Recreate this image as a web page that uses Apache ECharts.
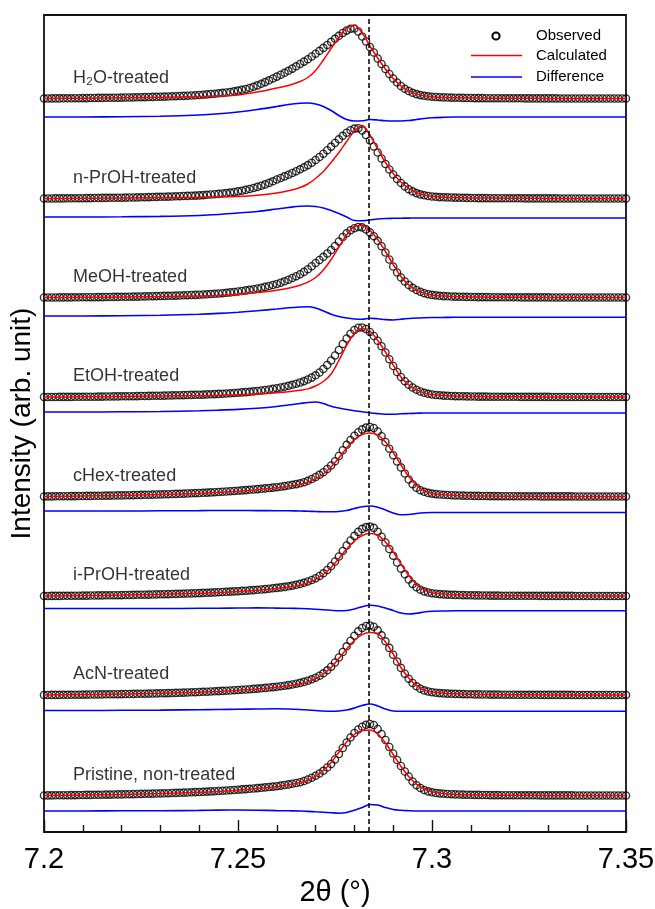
<!DOCTYPE html>
<html>
<head>
<meta charset="utf-8">
<script src="https://cdn.jsdelivr.net/npm/echarts@6/dist/echarts.min.js"></script>
<style>html,body{margin:0;padding:0;background:#fff}#c{width:655px;height:909px}</style>
</head>
<body>
<div id="c"></div>
<script>
// 2theta scan grid (deg) for observed points
const twoTheta = [
7.200,7.201,7.202,7.203,7.204,7.205,7.206,7.207,7.208,7.209,
7.210,7.211,7.212,7.213,7.214,7.215,7.216,7.217,7.218,7.219,
7.220,7.221,7.222,7.223,7.224,7.225,7.226,7.227,7.228,7.229,
7.230,7.231,7.232,7.233,7.234,7.235,7.236,7.237,7.238,7.239,
7.240,7.241,7.242,7.243,7.244,7.245,7.246,7.247,7.248,7.249,
7.250,7.251,7.252,7.253,7.254,7.255,7.256,7.257,7.258,7.259,
7.260,7.261,7.262,7.263,7.264,7.265,7.266,7.267,7.268,7.269,
7.270,7.271,7.272,7.273,7.274,7.275,7.276,7.277,7.278,7.279,
7.280,7.281,7.282,7.283,7.284,7.285,7.286,7.287,7.288,7.289,
7.290,7.291,7.292,7.293,7.294,7.295,7.296,7.297,7.298,7.299,
7.300,7.301,7.302,7.303,7.304,7.305,7.306,7.307,7.308,7.309,
7.310,7.311,7.312,7.313,7.314,7.315,7.316,7.317,7.318,7.319,
7.320,7.321,7.322,7.323,7.324,7.325,7.326,7.327,7.328,7.329,
7.330,7.331,7.332,7.333,7.334,7.335,7.336,7.337,7.338,7.339,
7.340,7.341,7.342,7.343,7.344,7.345,7.346,7.347,7.348,7.349,
7.350];

// 2theta grid for calculated and difference curves
const fitTheta = [7.200,7.210,7.220,7.230,7.240,7.245,7.250,7.255,7.260,7.263,7.266,7.268,7.270,7.272,7.274,7.276,7.278,7.280,7.282,7.284,7.286,7.288,7.290,7.292,7.294,7.296,7.298,7.300,7.303,7.306,7.310,7.315,7.320,7.330,7.340,7.350];

const sampleNames = ['H\u2082O-treated','n-PrOH-treated','MeOH-treated','EtOH-treated','cHex-treated','i-PrOH-treated','AcN-treated','Pristine, non-treated'];

// vertical offsets of each pattern (arb. unit)
const obsOffset  = [733, 633, 534, 434.5, 335, 235.5, 136.5, 36];
const diffOffset = [715, 615, 516, 420, 321, 223.5, 121.5, 21];

const dashedPeak = 7.2838;
const xTicks = [7.2, 7.25, 7.3, 7.35];

// Observed intensities
const obsH2O = [
0.5,0.5,0.6,0.6,0.6,0.7,0.7,0.7,0.8,0.8,
0.9,0.9,1.0,1.0,1.1,1.1,1.2,1.2,1.3,1.3,
1.4,1.5,1.5,1.6,1.7,1.8,1.9,2.0,2.1,2.2,
2.3,2.4,2.5,2.7,2.8,3.0,3.1,3.3,3.5,3.7,
4.0,4.3,4.6,5.0,5.3,5.7,6.1,6.5,7.0,7.7,
8.4,9.2,10.0,11.0,12.2,13.6,15.2,16.9,18.7,20.5,
22.4,24.3,26.2,28.2,30.4,32.7,35.0,37.4,39.8,42.5,
45.3,48.2,51.1,54.0,57.1,60.2,63.2,66.0,68.4,70.2,
70.5,67.5,62.5,57.5,52.0,46.5,40.5,35.0,30.0,25.0,
20.5,16.5,13.0,10.2,8.0,6.2,4.9,3.9,3.2,2.7,
2.3,2.0,1.8,1.6,1.5,1.4,1.3,1.2,1.1,1.0,
1.0,0.9,0.9,0.9,0.8,0.8,0.8,0.8,0.7,0.7,
0.7,0.7,0.7,0.7,0.6,0.6,0.6,0.6,0.6,0.6,
0.6,0.6,0.6,0.5,0.5,0.5,0.5,0.5,0.5,0.5,
0.5,0.5,0.5,0.5,0.5,0.5,0.5,0.5,0.5,0.5,
0.5];
const obsNPrOH = [
0.5,0.5,0.5,0.6,0.6,0.6,0.7,0.7,0.7,0.8,
0.8,0.9,0.9,1.0,1.0,1.1,1.1,1.2,1.2,1.3,
1.3,1.4,1.5,1.5,1.6,1.7,1.8,1.9,2.0,2.1,
2.2,2.3,2.4,2.5,2.7,2.8,3.0,3.1,3.3,3.4,
3.6,3.9,4.2,4.5,4.8,5.1,5.5,5.9,6.4,7.0,
7.6,8.3,9.1,10.0,11.0,12.1,13.3,14.6,16.1,17.7,
19.5,21.0,22.6,24.3,26.0,27.8,29.7,31.7,33.9,36.3,
39.0,42.0,45.3,48.8,52.4,56.0,59.7,63.2,66.3,68.8,
70.4,70.8,68.5,64.0,58.5,52.5,46.5,40.5,35.0,29.5,
24.5,20.0,16.0,12.6,9.8,7.6,5.9,4.6,3.7,3.0,
2.5,2.2,1.9,1.7,1.6,1.5,1.4,1.3,1.2,1.1,
1.0,1.0,0.9,0.9,0.9,0.8,0.8,0.8,0.8,0.7,
0.7,0.7,0.7,0.7,0.6,0.6,0.6,0.6,0.6,0.6,
0.6,0.6,0.6,0.5,0.5,0.5,0.5,0.5,0.5,0.5,
0.5,0.5,0.5,0.5,0.5,0.5,0.5,0.5,0.5,0.5,
0.5];
const obsMeOH = [
0.5,0.5,0.5,0.5,0.6,0.6,0.6,0.6,0.7,0.7,
0.7,0.8,0.8,0.8,0.9,0.9,1.0,1.0,1.1,1.1,
1.2,1.2,1.3,1.4,1.4,1.5,1.6,1.7,1.8,1.9,
2.0,2.1,2.2,2.3,2.4,2.5,2.7,2.8,3.0,3.1,
3.3,3.5,3.7,4.0,4.2,4.5,4.8,5.2,5.6,6.0,
6.5,7.0,7.6,8.2,8.8,9.5,10.3,11.1,12.0,13.0,
14.0,15.3,16.7,18.3,20.0,21.8,23.8,26.1,28.8,31.8,
35.0,38.0,41.2,44.5,48.0,52.0,56.5,61.0,64.8,67.8,
69.8,71.0,70.6,68.6,65.6,61.8,57.2,51.8,45.5,38.5,
31.5,25.5,20.5,16.5,13.0,10.2,8.0,6.2,4.8,3.8,
3.1,2.6,2.2,1.9,1.7,1.5,1.4,1.3,1.2,1.1,
1.0,1.0,0.9,0.9,0.9,0.8,0.8,0.8,0.7,0.7,
0.7,0.7,0.7,0.6,0.6,0.6,0.6,0.6,0.6,0.6,
0.6,0.5,0.5,0.5,0.5,0.5,0.5,0.5,0.5,0.5,
0.5,0.5,0.5,0.5,0.5,0.5,0.5,0.5,0.5,0.5,
0.5];
const obsEtOH = [
0.5,0.5,0.5,0.5,0.6,0.6,0.6,0.6,0.7,0.7,
0.7,0.8,0.8,0.8,0.9,0.9,1.0,1.0,1.1,1.1,
1.2,1.2,1.3,1.3,1.4,1.5,1.5,1.6,1.7,1.8,
1.8,1.9,2.0,2.1,2.2,2.3,2.4,2.5,2.6,2.7,
2.8,2.9,3.1,3.2,3.4,3.6,3.8,4.0,4.2,4.5,
4.8,5.1,5.4,5.7,6.1,6.5,7.0,7.5,8.0,8.6,
9.3,10.0,10.8,11.7,12.7,13.8,15.0,16.4,18.0,19.9,
22.2,25.0,28.5,32.5,37.0,42.0,47.5,53.5,59.0,63.8,
67.5,69.8,70.0,68.5,65.5,61.5,56.8,51.3,45.0,38.3,
31.5,25.5,20.5,16.3,12.8,10.0,7.8,6.0,4.7,3.7,
3.0,2.5,2.2,1.9,1.7,1.5,1.4,1.3,1.2,1.1,
1.0,1.0,0.9,0.9,0.9,0.8,0.8,0.8,0.7,0.7,
0.7,0.7,0.7,0.6,0.6,0.6,0.6,0.6,0.6,0.6,
0.6,0.5,0.5,0.5,0.5,0.5,0.5,0.5,0.5,0.5,
0.5,0.5,0.5,0.5,0.5,0.5,0.5,0.5,0.5,0.5,
0.5];
const obsCHex = [
0.5,0.6,0.6,0.7,0.7,0.8,0.8,0.9,0.9,1.0,
1.0,1.1,1.1,1.2,1.2,1.3,1.4,1.4,1.5,1.6,
1.6,1.7,1.8,1.9,2.0,2.1,2.2,2.3,2.4,2.5,
2.6,2.7,2.8,3.0,3.1,3.2,3.4,3.5,3.7,3.9,
4.0,4.2,4.4,4.6,4.8,5.0,5.3,5.5,5.8,6.0,
6.3,6.6,6.9,7.2,7.5,7.9,8.2,8.6,9.0,9.4,
9.8,10.3,10.9,11.5,12.2,12.9,13.7,14.8,16.2,18.0,
20.0,22.2,24.8,28.0,31.5,35.8,41.0,46.8,52.2,57.0,
61.3,64.8,67.6,69.4,70.0,69.0,65.5,60.8,55.0,48.3,
41.8,35.5,29.6,23.5,17.5,12.8,9.2,6.8,5.2,4.1,
3.4,2.9,2.5,2.2,2.0,1.8,1.6,1.5,1.4,1.3,
1.2,1.1,1.1,1.0,1.0,0.9,0.9,0.9,0.8,0.8,
0.8,0.8,0.7,0.7,0.7,0.7,0.7,0.7,0.6,0.6,
0.6,0.6,0.6,0.6,0.6,0.6,0.6,0.5,0.5,0.5,
0.5,0.5,0.5,0.5,0.5,0.5,0.5,0.5,0.5,0.5,
0.5];
const obsIPrOH = [
0.5,0.5,0.6,0.6,0.6,0.7,0.7,0.7,0.8,0.8,
0.9,0.9,1.0,1.0,1.1,1.1,1.2,1.2,1.3,1.3,
1.4,1.5,1.5,1.6,1.7,1.8,1.8,1.9,2.0,2.1,
2.2,2.3,2.4,2.5,2.6,2.7,2.9,3.0,3.1,3.3,
3.4,3.6,3.7,3.9,4.1,4.3,4.5,4.7,4.9,5.1,
5.3,5.6,5.8,6.1,6.4,6.7,7.0,7.4,7.8,8.2,
8.6,9.1,9.6,10.2,10.9,11.7,12.6,13.7,15.0,16.5,
18.3,20.5,23.2,26.5,30.5,35.0,40.0,45.5,51.0,56.0,
60.6,64.6,67.6,69.4,70.0,68.6,64.8,59.8,54.0,47.5,
40.8,34.0,27.8,22.2,17.0,12.6,9.2,6.8,5.1,4.0,
3.3,2.8,2.4,2.1,1.9,1.7,1.6,1.5,1.4,1.3,
1.2,1.1,1.1,1.0,1.0,0.9,0.9,0.9,0.8,0.8,
0.8,0.8,0.7,0.7,0.7,0.7,0.7,0.7,0.6,0.6,
0.6,0.6,0.6,0.6,0.6,0.6,0.6,0.5,0.5,0.5,
0.5,0.5,0.5,0.5,0.5,0.5,0.5,0.5,0.5,0.5,
0.5];
const obsAcN = [
0.5,0.5,0.6,0.6,0.6,0.7,0.7,0.7,0.8,0.8,
0.9,0.9,1.0,1.0,1.1,1.1,1.2,1.2,1.3,1.3,
1.4,1.5,1.5,1.6,1.7,1.8,1.8,1.9,2.0,2.1,
2.2,2.3,2.4,2.5,2.6,2.8,2.9,3.0,3.2,3.3,
3.5,3.7,3.8,4.0,4.2,4.4,4.6,4.8,5.0,5.3,
5.5,5.8,6.0,6.3,6.6,6.9,7.2,7.6,8.0,8.4,
8.8,9.3,9.8,10.4,11.0,11.8,12.6,13.6,14.8,16.2,
17.8,19.8,22.2,25.2,28.8,33.0,38.0,43.5,49.2,54.8,
59.8,64.2,67.5,69.5,70.0,68.8,65.2,60.2,54.2,47.6,
40.8,34.0,27.6,21.8,16.8,12.5,9.2,6.8,5.1,4.0,
3.3,2.8,2.4,2.1,1.9,1.7,1.6,1.5,1.4,1.3,
1.2,1.1,1.1,1.0,1.0,0.9,0.9,0.9,0.8,0.8,
0.8,0.8,0.7,0.7,0.7,0.7,0.7,0.7,0.6,0.6,
0.6,0.6,0.6,0.6,0.6,0.6,0.6,0.5,0.5,0.5,
0.5,0.5,0.5,0.5,0.5,0.5,0.5,0.5,0.5,0.5,
0.5];
const obsPristine = [
0.5,0.6,0.6,0.7,0.7,0.8,0.8,0.9,0.9,1.0,
1.0,1.1,1.1,1.2,1.2,1.3,1.4,1.4,1.5,1.6,
1.6,1.7,1.8,1.9,2.0,2.1,2.2,2.3,2.4,2.5,
2.6,2.7,2.8,3.0,3.1,3.2,3.4,3.5,3.7,3.9,
4.0,4.2,4.4,4.6,4.8,5.0,5.3,5.5,5.8,6.0,
6.3,6.6,6.9,7.2,7.5,7.9,8.2,8.6,9.0,9.4,
9.8,10.4,11.0,11.6,12.3,13.0,13.8,15.0,16.5,18.3,
20.3,22.5,25.2,28.5,32.0,36.5,42.0,48.0,53.5,58.5,
63.0,66.5,69.3,71.2,72.0,71.0,67.0,62.0,56.0,49.0,
42.5,36.0,30.0,24.5,19.5,14.5,10.8,8.0,6.0,4.6,
3.7,3.0,2.6,2.3,2.0,1.8,1.6,1.5,1.4,1.3,
1.2,1.1,1.1,1.0,1.0,0.9,0.9,0.9,0.8,0.8,
0.8,0.8,0.7,0.7,0.7,0.7,0.7,0.7,0.6,0.6,
0.6,0.6,0.6,0.6,0.6,0.6,0.6,0.5,0.5,0.5,
0.5,0.5,0.5,0.5,0.5,0.5,0.5,0.5,0.5,0.5,
0.5];

// Calculated intensities (on fitTheta)
const calcH2O     = [0.5,0.8,1.2,1.7,2.4,2.9,4.0,7.0,11.0,13.5,17.5,21.5,28.5,39.0,50.5,61.5,71.0,73.5,66.0,53.0,41.0,30.0,20.5,13.0,8.0,4.9,3.2,2.3,1.6,1.3,1.0,0.8,0.7,0.6,0.5,0.5];
const calcNPrOH   = [0.5,0.7,1.0,1.4,1.8,2.1,2.6,3.8,6.0,8.2,11.5,15.0,20.5,27.5,36.5,46.5,57.5,68.0,73.5,64.0,50.0,36.5,25.5,17.0,10.5,6.3,4.0,2.7,1.8,1.5,1.1,0.9,0.7,0.6,0.5,0.5];
const calcMeOH    = [0.5,0.7,1.0,1.4,2.0,2.6,3.5,5.5,7.8,9.8,12.8,15.8,20.5,28.0,38.5,51.0,63.0,71.5,72.5,67.5,58.5,46.5,33.5,21.5,13.0,7.8,4.8,3.1,1.9,1.4,1.0,0.8,0.7,0.6,0.5,0.5];
const calcEtOH    = [0.5,0.7,1.0,1.4,1.9,2.3,2.8,3.6,4.8,5.8,7.3,8.6,11.5,16.0,23.5,37.0,52.0,64.0,69.0,66.5,57.0,45.5,32.5,20.5,12.5,7.6,4.6,3.0,1.9,1.4,1.0,0.8,0.7,0.6,0.5,0.5];
const calcCHex    = [0.5,0.9,1.5,2.4,3.6,4.6,5.8,7.4,9.2,10.8,12.8,14.8,18.3,23.0,30.0,39.0,49.0,57.5,62.5,64.0,62.0,55.0,44.5,32.0,20.5,11.5,6.0,3.6,2.2,1.6,1.1,0.9,0.7,0.6,0.5,0.5];
const calcIPrOH   = [0.5,0.9,1.4,2.2,3.2,4.0,5.0,6.4,8.0,9.5,11.6,13.7,17.2,22.0,29.0,38.0,47.5,55.5,61.0,63.0,61.5,54.5,44.5,32.5,21.0,12.0,6.5,3.8,2.3,1.7,1.2,0.9,0.7,0.6,0.5,0.5];
const calcAcN     = [0.5,0.9,1.4,2.2,3.3,4.1,5.2,6.6,8.3,9.8,11.8,13.9,17.0,21.5,28.0,37.0,46.5,55.0,60.8,63.0,62.0,53.5,41.5,28.0,17.5,9.8,5.4,3.4,2.2,1.7,1.2,0.9,0.7,0.6,0.5,0.5];
const calcPristine= [0.5,0.9,1.5,2.5,3.7,4.6,5.9,7.4,9.5,11.2,13.4,15.8,19.8,25.5,33.5,43.8,54.0,61.5,65.5,66.0,62.0,53.0,41.5,29.5,19.5,11.8,7.0,4.3,2.4,1.6,1.1,0.9,0.7,0.6,0.5,0.5];

// Difference curves (on fitTheta)
const diffH2O     = [0,0,0.3,0.8,2.0,3.2,5.0,7.5,10.5,12.5,13.8,14.0,13.0,10.5,6.5,1.5,-2.5,-4.0,-3.8,-2.5,-3.0,-3.8,-4.0,-4.0,-3.5,-2.5,-1.5,-0.8,-0.3,0,0,0,0,0,0,0];
const diffNPrOH   = [0,0,0.2,0.6,1.5,2.5,4.0,5.5,8.0,9.5,10.8,11.0,10.5,9.0,6.5,3.5,0,-3.5,-3.8,-3.0,-2.0,-1.5,-1.3,-1.2,-1.1,-1.0,-1.0,-1.0,-1.0,-1.0,-1.0,-1.0,-1.0,-1.0,-1.0,-1.0];
const diffMeOH    = [0,0,0.3,0.8,1.8,2.6,3.8,5.3,7.0,8.2,9.0,9.3,8.0,5.0,1.8,-0.5,-2.0,-3.0,-3.3,-2.3,-2.8,-3.6,-4.0,-3.2,-2.5,-2.0,-1.7,-1.5,-1.4,-1.3,-1.3,-1.3,-1.3,-1.3,-1.3,-1.3];
const diffEtOH    = [0,0,0.2,0.5,1.2,1.8,2.6,3.8,5.5,7.0,8.5,9.5,10.0,8.5,5.8,4.0,2.5,1.2,0.3,-0.8,-1.6,-2.2,-2.3,-1.8,-1.5,-1.2,-1.0,-1.0,-1.0,-1.0,-1.0,-1.0,-1.0,-1.0,-1.0,-1.0];
const diffCHex    = [0,0,0,0.2,0.4,0.5,0.5,0.4,0.3,0.2,0,-0.3,-0.5,-0.8,-0.8,-0.5,0.5,2.5,4.2,5.0,3.8,1.0,-2.0,-3.8,-3.5,-2.5,-1.8,-1.5,-1.5,-1.5,-1.5,-1.5,-1.5,-1.5,-1.5,-1.5];
const diffIPrOH   = [0,0,0,0,0.2,0.3,0.5,0.6,0.4,0.2,0,-0.3,-0.7,-1.2,-1.8,-2.3,-2.0,-0.5,1.8,3.3,2.5,0.5,-2.0,-4.5,-5.5,-4.8,-3.5,-2.8,-2.5,-2.3,-2.3,-2.3,-2.3,-2.3,-2.3,-2.3];
const diffAcN     = [0,0,0.2,0.4,0.8,1.0,1.2,1.5,1.7,1.5,1.0,0.5,0,-0.5,-0.7,-0.5,0.5,2.5,5.0,6.5,4.5,1.5,-0.5,-0.8,-0.8,-0.7,-0.7,-0.7,-0.7,-0.7,-0.7,-0.7,-0.7,-0.7,-0.7,-0.7];
const diffPristine= [0,0,0.2,0.3,0.6,0.9,1.0,0.8,0.4,0.2,0,-0.4,-0.8,-1.2,-1.7,-2.2,-1.5,0.8,3.5,6.5,6.0,3.5,1.5,0.7,0.3,0,0,0,0,0,0,0,0,0,0,0];

const observed   = [obsH2O, obsNPrOH, obsMeOH, obsEtOH, obsCHex, obsIPrOH, obsAcN, obsPristine];
const calculated = [calcH2O, calcNPrOH, calcMeOH, calcEtOH, calcCHex, calcIPrOH, calcAcN, calcPristine];
const difference = [diffH2O, diffNPrOH, diffMeOH, diffEtOH, diffCHex, diffIPrOH, diffAcN, diffPristine];

const FONT = 'Arial, "Liberation Sans", Helvetica, sans-serif';
const chart = echarts.init(document.getElementById('c'), null, {renderer: 'canvas'});

const series = [];
for (let p = 0; p < observed.length; p++) {
  series.push({
    type: 'scatter', name: 'Observed', z: 2,
    symbol: 'circle', symbolSize: 7.2,
    itemStyle: {color: 'rgba(0,0,0,0)', borderColor: '#000', borderWidth: 1.4},
    data: twoTheta.map((t, i) => [t, obsOffset[p] + observed[p][i]]),
    silent: true
  });
  series.push({
    type: 'line', name: 'Calculated', z: 3, smooth: 0.35, showSymbol: false,
    lineStyle: {color: '#ff0000', width: 1.5},
    data: fitTheta.map((t, i) => [t, obsOffset[p] + calculated[p][i]]),
    silent: true
  });
  series.push({
    type: 'line', name: 'Difference', z: 3, smooth: 0.35, showSymbol: false,
    lineStyle: {color: '#0000ff', width: 1.6},
    data: fitTheta.map((t, i) => [t, diffOffset[p] + difference[p][i]]),
    silent: true
  });
}
// sample labels
series.push({
  type: 'scatter', z: 6, symbolSize: 0, silent: true,
  data: sampleNames.map((n, p) => ({name: n, value: [7.2075, obsOffset[p] + 21]})),
  label: {show: true, position: 'right', distance: 0, formatter: '{b}',
          fontSize: 18, color: '#000', fontFamily: FONT}
});
// dashed reference line
series.push({
  type: 'line', z: 5, data: [], silent: true,
  markLine: {silent: true, symbol: 'none', precision: 5, label: {show: false},
    lineStyle: {type: [5, 3], color: '#000', width: 1.5},
    data: [{xAxis: dashedPeak}]}
});

chart.setOption({
  animation: false,
  backgroundColor: '#fff',
  grid: {left: 44, right: 29, top: 15, bottom: 77, show: true, borderColor: '#111', borderWidth: 1.8,
         containLabel: false, outerBoundsMode: 'none'},
  xAxis: {
    type: 'value', min: 7.2, max: 7.35, interval: 0.05,
    name: '2\u03b8 (\u00b0)', nameLocation: 'middle', nameGap: 46,
    nameTextStyle: {fontSize: 29, color: '#000', fontFamily: FONT},
    axisLine: {show: false},
    axisTick: {show: true, inside: true, length: 12, lineStyle: {color: '#111', width: 1.4}},
    minorTick: {show: true, splitNumber: 5, length: 7, lineStyle: {color: '#111', width: 1.4}},
    splitLine: {show: false},
    axisLabel: {fontSize: 29, color: '#000', margin: 13, fontFamily: FONT,
      formatter: v => { const r = Math.round(v * 100) / 100; return xTicks.includes(r) ? String(r) : ''; }}
  },
  yAxis: {
    type: 'value', min: 0, max: 817,
    name: 'Intensity (arb. unit)', nameLocation: 'middle', nameGap: 8, nameRotate: 90,
    nameTextStyle: {fontSize: 28, color: '#000', fontFamily: FONT},
    axisLine: {show: false}, axisTick: {show: false}, axisLabel: {show: false}, splitLine: {show: false}
  },
  graphic: [
    {type: 'circle', shape: {cx: 496, cy: 36, r: 3.6}, style: {fill: 'none', stroke: '#000', lineWidth: 2}},
    {type: 'line', shape: {x1: 471, y1: 55.5, x2: 522, y2: 55.5}, style: {stroke: '#ff0000', lineWidth: 1.5}},
    {type: 'line', shape: {x1: 471, y1: 77, x2: 522, y2: 77}, style: {stroke: '#0000ff', lineWidth: 1.5}},
    {type: 'text', x: 536, y: 36, style: {text: 'Observed', fontSize: 15, fontFamily: FONT, fill: '#000', verticalAlign: 'middle'}},
    {type: 'text', x: 536, y: 55.5, style: {text: 'Calculated', fontSize: 15, fontFamily: FONT, fill: '#000', verticalAlign: 'middle'}},
    {type: 'text', x: 536, y: 77, style: {text: 'Difference', fontSize: 15, fontFamily: FONT, fill: '#000', verticalAlign: 'middle'}}
  ],
  series: series
});
</script>
</body>
</html>
